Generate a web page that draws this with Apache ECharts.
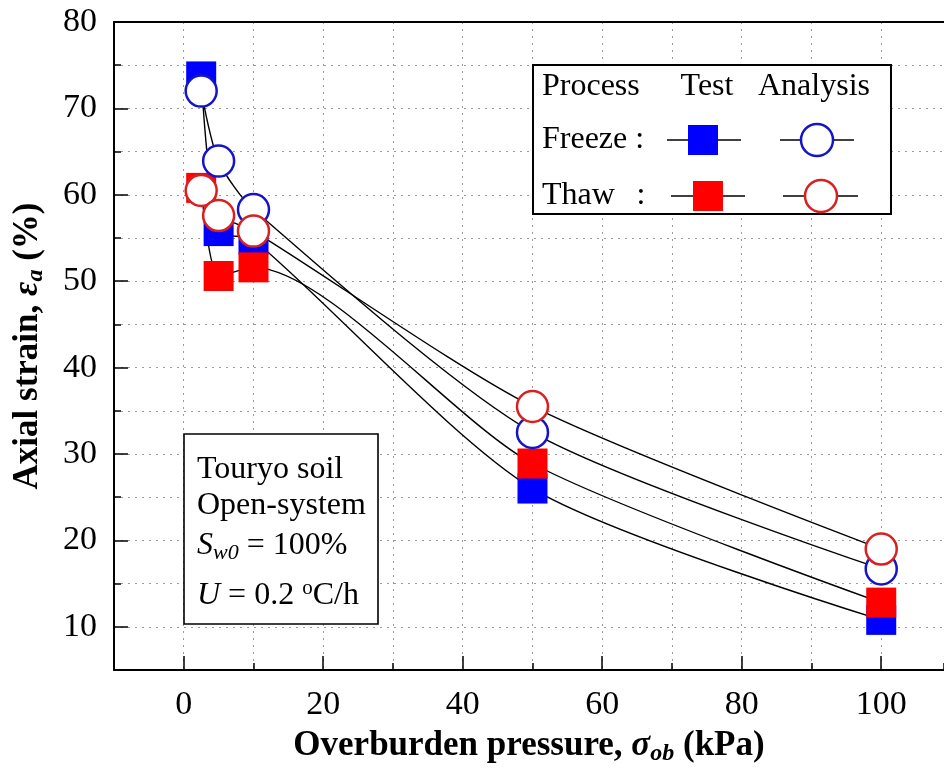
<!DOCTYPE html>
<html>
<head>
<meta charset="utf-8">
<script src="https://cdn.jsdelivr.net/npm/echarts@6/dist/echarts.min.js"></script>
<style>
html,body{margin:0;padding:0;background:#fff;}
#chart{width:944px;height:774px;}
</style>
</head>
<body>
<div id="chart"></div>
<script>
// ---- data ----
const pressure = [2.5, 5, 10, 50, 100];
const freezeTest = [73.7, 55.8, 54.8, 26.0, 10.8];
const thawTest = [60.8, 50.6, 51.6, 28.9, 12.8];
const freezeAnalysis = [72.0, 63.9, 58.3, 32.5, 16.7];
const thawAnalysis = [60.5, 57.6, 55.8, 35.5, 19.0];
const xTickLabels = [0, 20, 40, 60, 80, 100];
const yTickLabels = [10, 20, 30, 40, 50, 60, 70, 80];

const FONT = 'Liberation Serif';
const pts = (ys) => pressure.map((x, i) => [x, ys[i]]);

const chart = echarts.init(document.getElementById('chart'), null, {renderer: 'canvas'});

const dotted = {color: '#9a9a9a', width: 1, type: [2, 5]};
const X_MIN = -10, X_MAX = 109;

const lineSeries = (ys) => ({
  type: 'line', data: pts(ys), smooth: 0.25, symbol: 'none',
  lineStyle: {color: '#000', width: 1.4}, z: 2, silent: true
});
const markSeries = (ys, symbol, size, fill, stroke, z) => ({
  type: 'scatter', data: pts(ys), symbol: symbol, symbolSize: size,
  itemStyle: {color: fill, borderColor: stroke, borderWidth: symbol === 'circle' ? 2.5 : 0, opacity: 1},
  z: z, silent: true
});

const option = {
  animation: false,
  backgroundColor: '#fff',
  grid: {left: 114, top: 22, right: 0, bottom: 104, show: false},
  xAxis: [{
    type: 'value', min: X_MIN, max: X_MAX, interval: 10,
    axisLine: {show: true, onZero: false, lineStyle: {color: '#000', width: 2}},
    axisTick: {show: true, inside: true, length: 7, lineStyle: {color: '#000', width: 1.5}},
    axisLabel: {show: false},
    splitLine: {show: true, lineStyle: dotted},
    name: '{b|Overburden pressure, }{i|σ}{sub|ob}{b| (kPa)}',
    nameLocation: 'middle', nameGap: 56,
    nameTextStyle: {
      fontFamily: FONT, fontSize: 35, fontWeight: 'bold', color: '#000',
      rich: {
        b: {fontFamily: FONT, fontSize: 35, fontWeight: 'bold', color: '#000', lineHeight: 40},
        i: {fontFamily: FONT, fontSize: 35, fontWeight: 'bold', fontStyle: 'italic', color: '#000', lineHeight: 40},
        sub: {fontFamily: FONT, fontSize: 24, fontWeight: 'bold', fontStyle: 'italic', color: '#000', lineHeight: 22, verticalAlign: 'bottom'}
      }
    }
  }, {
    type: 'value', min: X_MIN, max: X_MAX, position: 'bottom',
    axisLine: {show: false, onZero: false},
    axisTick: {show: true, inside: true, length: 14, customValues: xTickLabels, lineStyle: {color: '#000', width: 1.5}},
    axisLabel: {show: true, customValues: xTickLabels, margin: 18, fontFamily: FONT, fontSize: 34, color: '#000'},
    splitLine: {show: false}
  }, {
    type: 'value', min: X_MIN, max: X_MAX, position: 'top',
    axisLine: {show: true, onZero: false, lineStyle: {color: '#000', width: 2}},
    axisTick: {show: false}, axisLabel: {show: false}, splitLine: {show: false}
  }],
  yAxis: [{
    type: 'value', min: 5, max: 80, interval: 5,
    axisLine: {show: true, onZero: false, lineStyle: {color: '#000', width: 2}},
    axisTick: {show: true, inside: true, length: 7, lineStyle: {color: '#000', width: 1.5}},
    axisLabel: {show: false},
    splitLine: {show: true, lineStyle: dotted},
    name: '{b|Axial strain, }{i|ε}{sub|a}{b| (%)}',
    nameLocation: 'middle', nameGap: 66,
    nameTextStyle: {
      fontFamily: FONT, fontSize: 35, fontWeight: 'bold', color: '#000',
      rich: {
        b: {fontFamily: FONT, fontSize: 35, fontWeight: 'bold', color: '#000', lineHeight: 40},
        i: {fontFamily: FONT, fontSize: 35, fontWeight: 'bold', fontStyle: 'italic', color: '#000', lineHeight: 40},
        sub: {fontFamily: FONT, fontSize: 24, fontWeight: 'bold', fontStyle: 'italic', color: '#000', lineHeight: 22, verticalAlign: 'bottom'}
      }
    }
  }, {
    type: 'value', min: 5, max: 80, position: 'left',
    axisLine: {show: false, onZero: false},
    axisTick: {show: true, inside: true, length: 14, customValues: yTickLabels, lineStyle: {color: '#000', width: 1.5}},
    axisLabel: {show: true, customValues: yTickLabels, margin: 17, fontFamily: FONT, fontSize: 34, color: '#000'},
    splitLine: {show: false}
  }],
  series: [
    lineSeries(freezeTest),
    lineSeries(thawTest),
    lineSeries(freezeAnalysis),
    lineSeries(thawAnalysis),
    markSeries(freezeTest, 'rect', 30, '#0000FF', '#0000FF', 10),
    markSeries(thawTest, 'rect', 30, '#FF0000', '#FF0000', 11),
    markSeries(freezeAnalysis, 'circle', 31, '#FFFFFF', '#1515C8', 12),
    markSeries(thawAnalysis, 'circle', 31, '#FFFFFF', '#D82020', 13)
  ],
  graphic: [
    // annotation box
    {type: 'rect', z: 100, shape: {x: 184, y: 434, width: 194, height: 190}, style: {fill: '#fff', stroke: '#000', lineWidth: 1.6}},
    {type: 'text', z: 101, x: 197, y: 470, style: {text: 'Touryo soil', font: '32px "Liberation Serif"', fill: '#000', textVerticalAlign: 'middle'}},
    {type: 'text', z: 101, x: 197, y: 506, style: {text: 'Open-system', font: '32px "Liberation Serif"', fill: '#000', textVerticalAlign: 'middle'}},
    {type: 'text', z: 101, x: 197, y: 546, style: {
      text: '{i|S}{s|w0}{n| = 100%}', textVerticalAlign: 'middle',
      rich: {
        i: {fontFamily: FONT, fontSize: 32, fontStyle: 'italic', fill: '#000', lineHeight: 36},
        s: {fontFamily: FONT, fontSize: 22, fontStyle: 'italic', fill: '#000', lineHeight: 20, verticalAlign: 'bottom'},
        n: {fontFamily: FONT, fontSize: 32, fill: '#000', lineHeight: 36}
      }}},
    {type: 'text', z: 101, x: 197, y: 596, style: {
      text: '{i|U}{n| = 0.2 }{p|o}{n|C/h}', textVerticalAlign: 'middle',
      rich: {
        i: {fontFamily: FONT, fontSize: 32, fontStyle: 'italic', fill: '#000', lineHeight: 36},
        p: {fontFamily: FONT, fontSize: 21, fill: '#000', lineHeight: 20, verticalAlign: 'top'},
        n: {fontFamily: FONT, fontSize: 32, fill: '#000', lineHeight: 36}
      }}},
    // legend box
    {type: 'rect', z: 100, shape: {x: 533, y: 65, width: 358, height: 149}, style: {fill: '#fff', stroke: '#000', lineWidth: 2}},
    {type: 'text', z: 101, x: 542, y: 87, style: {text: 'Process', font: '32px "Liberation Serif"', fill: '#000', textVerticalAlign: 'middle'}},
    {type: 'text', z: 101, x: 707, y: 87, style: {text: 'Test', font: '32px "Liberation Serif"', fill: '#000', textAlign: 'center', textVerticalAlign: 'middle'}},
    {type: 'text', z: 101, x: 814, y: 87, style: {text: 'Analysis', font: '32px "Liberation Serif"', fill: '#000', textAlign: 'center', textVerticalAlign: 'middle'}},
    {type: 'text', z: 101, x: 542, y: 140, style: {text: 'Freeze :', font: '32px "Liberation Serif"', fill: '#000', textVerticalAlign: 'middle'}},
    {type: 'text', z: 101, x: 542, y: 196, style: {text: 'Thaw', font: '32px "Liberation Serif"', fill: '#000', textVerticalAlign: 'middle'}},
    {type: 'text', z: 101, x: 641, y: 196, style: {text: ':', font: '32px "Liberation Serif"', fill: '#000', textAlign: 'center', textVerticalAlign: 'middle'}},
    {type: 'line', z: 101, shape: {x1: 667, y1: 140, x2: 741, y2: 140}, style: {stroke: '#000', lineWidth: 1.5}},
    {type: 'rect', z: 102, shape: {x: 688, y: 125, width: 30, height: 30}, style: {fill: '#0000FF'}},
    {type: 'line', z: 101, shape: {x1: 780, y1: 140, x2: 854, y2: 140}, style: {stroke: '#000', lineWidth: 1.5}},
    {type: 'circle', z: 102, shape: {cx: 817, cy: 140, r: 16}, style: {fill: '#fff', stroke: '#1515C8', lineWidth: 2.5}},
    {type: 'line', z: 101, shape: {x1: 671, y1: 196, x2: 745, y2: 196}, style: {stroke: '#000', lineWidth: 1.5}},
    {type: 'rect', z: 102, shape: {x: 693, y: 181, width: 30, height: 30}, style: {fill: '#FF0000'}},
    {type: 'line', z: 101, shape: {x1: 783, y1: 196, x2: 858, y2: 196}, style: {stroke: '#000', lineWidth: 1.5}},
    {type: 'circle', z: 102, shape: {cx: 821, cy: 196, r: 16}, style: {fill: '#fff', stroke: '#D82020', lineWidth: 2.5}}
  ]
};
chart.setOption(option);
</script>
</body>
</html>
